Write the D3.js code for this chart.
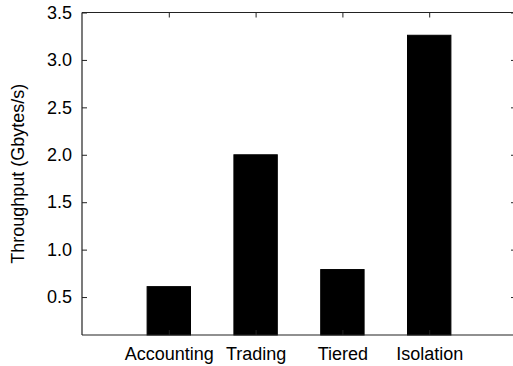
<!DOCTYPE html>
<html>
<head>
<meta charset="utf-8">
<script src="https://cdn.jsdelivr.net/npm/d3@7"></script>
<style>
  html, body { margin: 0; padding: 0; background: #fff; }
  svg { display: block; }
  text { font-family: "Liberation Sans", Arial, Helvetica, sans-serif; fill: #000; }
</style>
</head>
<body>
<script>
// Workload names and measured throughput (Gbytes/s)
const categories = ["Accounting", "Trading", "Tiered", "Isolation"];
const throughput = [0.61, 2.0, 0.79, 3.26];
const yTickValues = [0.5, 1.0, 1.5, 2.0, 2.5, 3.0, 3.5];
const yLabel = "Throughput (Gbytes/s)";

const width = 513, height = 366;
const plotLeft = 82, plotRight = 516, plotTop = 12.5, plotBottom = 335;
const fontSize = 18;

const svg = d3.select("body").append("svg")
  .attr("width", width).attr("height", height);

// Category slots sit at 0..n-1 with one empty unit of padding on each side
const x = d3.scaleLinear().domain([-1, categories.length]).range([plotLeft, plotRight]);
const y = d3.scaleLinear().domain([0.1, 3.5]).range([plotBottom, plotTop]);
const boxWidth = 0.5;

// Bars
svg.append("g").selectAll("rect")
  .data(throughput)
  .join("rect")
  .attr("x", (d, i) => x(i - boxWidth / 2))
  .attr("y", d => y(d))
  .attr("width", (d, i) => x(i + boxWidth / 2) - x(i - boxWidth / 2))
  .attr("height", d => y.range()[0] - y(d))
  .attr("fill", "#000")
  .attr("stroke", "#000")
  .attr("stroke-width", 1);

const axisColor = "#222";
const tick = 5;

function styleAxis(g) {
  g.select(".domain").remove();
  g.selectAll(".tick line").attr("stroke", axisColor).attr("stroke-width", 1);
  g.selectAll(".tick text").attr("font-size", fontSize).attr("font-family", null).attr("fill", "#000");
}

// Left axis with labels, ticks pointing inward
svg.append("g")
  .attr("transform", `translate(${plotLeft},0)`)
  .call(d3.axisLeft(y).tickValues(yTickValues).tickFormat(d3.format(".1f"))
    .tickSize(-tick).tickPadding(10))
  .call(styleAxis);

// Mirrored ticks on the right
svg.append("g")
  .attr("transform", `translate(${plotRight},0)`)
  .call(d3.axisRight(y).tickValues(yTickValues).tickFormat("").tickSize(-tick))
  .call(styleAxis);

// Bottom axis with category names
svg.append("g")
  .attr("transform", `translate(0,${plotBottom})`)
  .call(d3.axisBottom(x).tickValues(d3.range(categories.length))
    .tickFormat(i => categories[i]).tickSize(-tick).tickPadding(12.5))
  .call(styleAxis);

// Mirrored ticks on the top
svg.append("g")
  .attr("transform", `translate(0,${plotTop})`)
  .call(d3.axisTop(x).tickValues(d3.range(categories.length)).tickFormat("").tickSize(-tick))
  .call(styleAxis);

// Border: left, top and bottom edges of the plot area
const border = svg.append("g").attr("stroke", axisColor).attr("stroke-width", 1.2).attr("fill", "none");
border.append("line").attr("x1", plotLeft).attr("x2", plotLeft).attr("y1", plotTop).attr("y2", plotBottom);
border.append("line").attr("x1", plotLeft).attr("x2", plotRight).attr("y1", plotTop).attr("y2", plotTop);
border.append("line").attr("x1", plotLeft).attr("x2", plotRight).attr("y1", plotBottom).attr("y2", plotBottom);
border.append("line").attr("x1", plotRight).attr("x2", plotRight).attr("y1", plotTop).attr("y2", plotBottom);

// Y axis title
svg.append("text")
  .attr("transform", `translate(24,${(plotTop + plotBottom) / 2}) rotate(-90)`)
  .attr("text-anchor", "middle")
  .attr("font-size", fontSize)
  .text(yLabel);
</script>
</body>
</html>
